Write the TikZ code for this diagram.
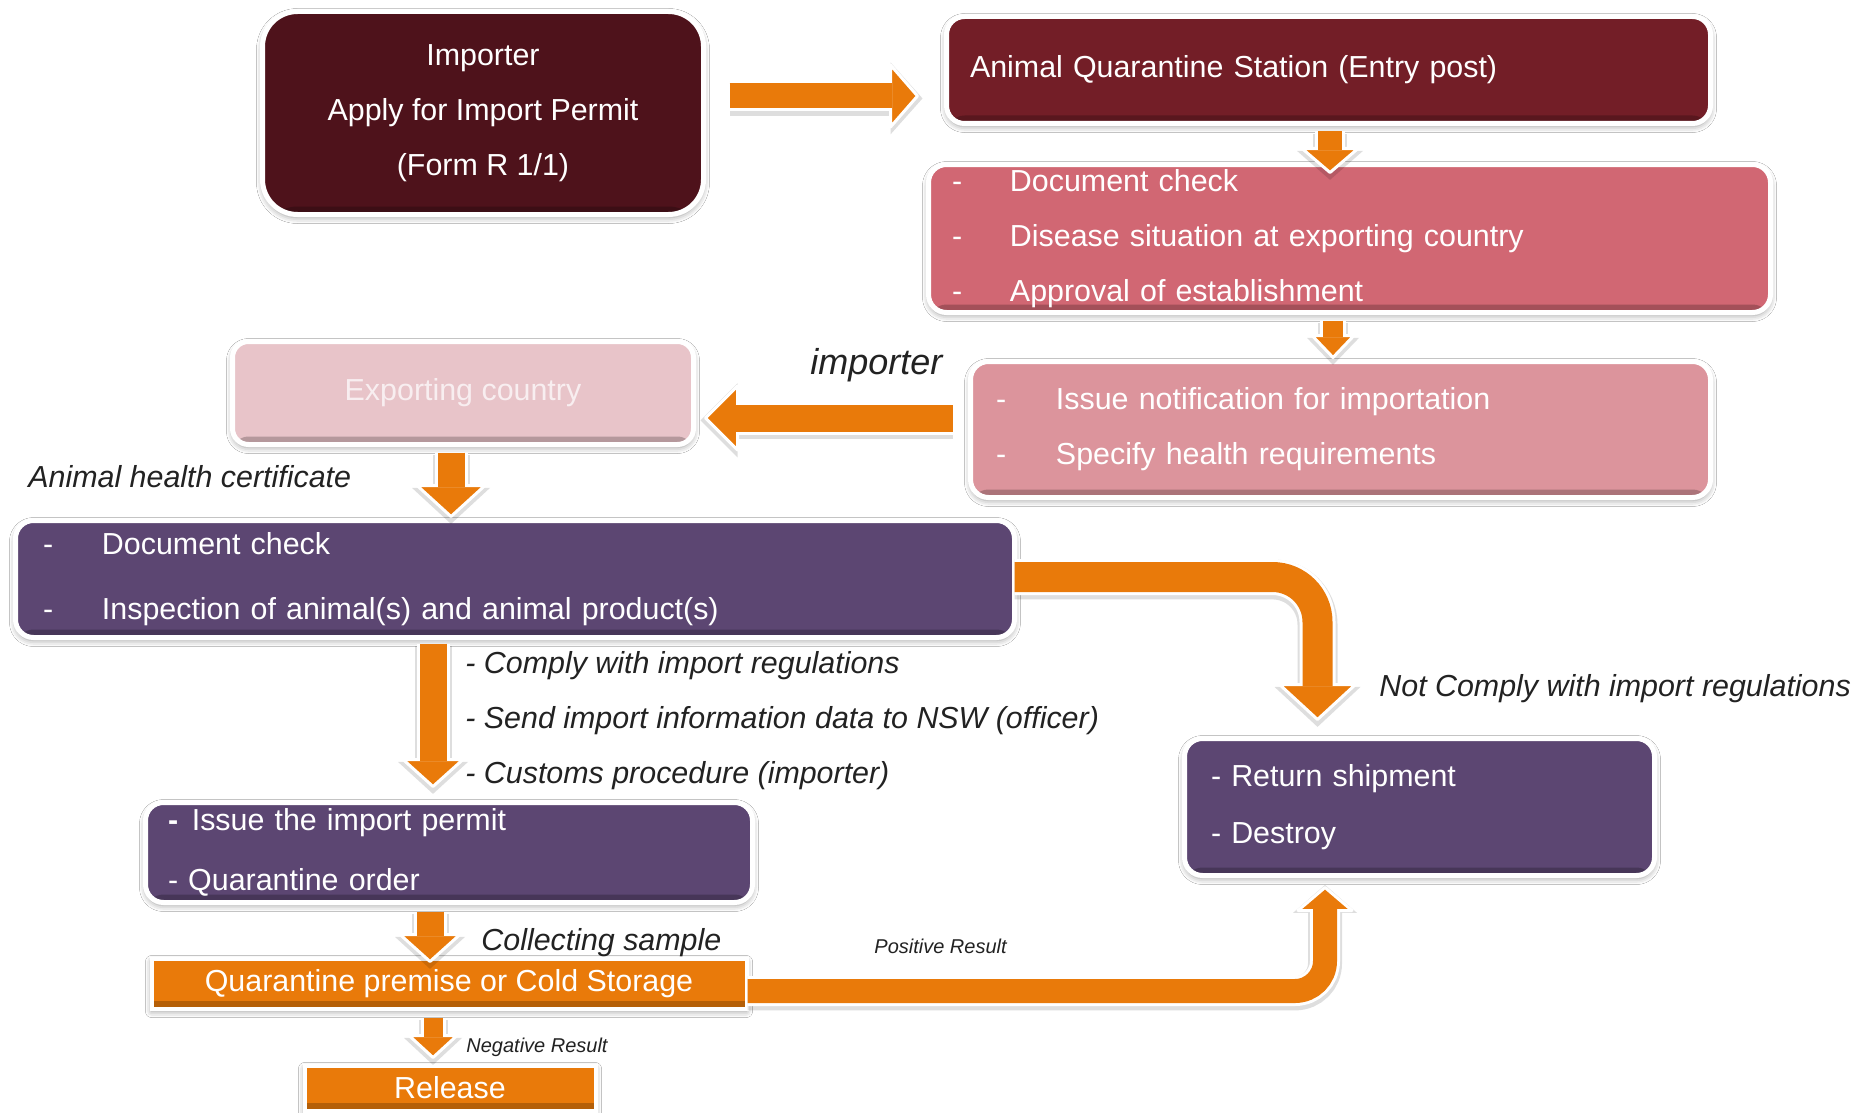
\documentclass[tikz,border=0pt]{standalone}
\usepackage{fontspec}
\setmainfont{Liberation Sans}
\usetikzlibrary{calc,shadows.blur}
\definecolor{cImp}{HTML}{4E121B}
\definecolor{cAqs}{HTML}{731E27}
\definecolor{cDoc}{HTML}{D16773}
\definecolor{cNot}{HTML}{DC949C}
\definecolor{cExp}{HTML}{E8C4C9}
\definecolor{cExpT}{HTML}{F8EEF0}
\definecolor{cPur}{HTML}{5C4672}
\definecolor{cOra}{HTML}{E97A0A}
\definecolor{cTxt}{HTML}{222222}
\newcommand\dl[2][29pt]{\makebox[#1][l]{-}#2}
\tikzset{
  box/.style={draw=white, line width=2.5pt, rounded corners=9pt, inner sep=0pt, outer sep=0pt,
    text=white, font=\fontsize{15.2pt}{27.5pt}\selectfont,
    blur shadow={shadow xshift=0pt, shadow yshift=-1.5pt, shadow blur radius=3pt, shadow opacity=40},
    path picture={\fill[black,opacity=0.22] (path picture bounding box.south west) rectangle ([yshift=4pt]path picture bounding box.south east);}},
  obox/.style={box, sharp corners, fill=cOra, line width=2pt},
  lbl/.style={inner sep=0pt, anchor=west, text=cTxt, font=\fontsize{15.2pt}{18pt}\selectfont\itshape},
  smalllbl/.style={lbl, font=\fontsize{10pt}{12pt}\selectfont\itshape},
  arrshadow/.style={draw=black, opacity=0.13},
  arrshadowfill/.style={fill=black, opacity=0.13},
  arrwhite/.style={draw=white},
  arrhead/.style={fill=cOra, draw=white, line width=1.5pt, line join=round},
  arrshaft/.style={draw=cOra}
}
% straight block arrow: #1 start, #2 tip, #3 shaft width, #4 head half width, #5 head length, #6 head base name
\newcommand\blockarrow[6]{%
  \coordinate (#6) at ($(#2)!#5pt!(#1)$);
  \begin{scope}[transform canvas={yshift=-1.2pt}]
    \draw[arrshadow, line width=#3pt+5pt] (#1) -- (#6);
    \fill[arrshadowfill] ($(#6)!#4pt+2.5pt!90:(#2)$) -- ($(#2)!-2.5pt!(#6)$) -- ($(#6)!#4pt+2.5pt!-90:(#2)$) -- cycle;
  \end{scope}
  \draw[arrwhite, line width=#3pt+3pt] (#1) -- (#6);
  \filldraw[arrhead] ($(#6)!#4pt!90:(#2)$) -- (#2) -- ($(#6)!#4pt!-90:(#2)$) -- cycle;
  \draw[arrshaft, line width=#3pt] (#1) -- ($(#6)!0.8pt!(#2)$);
}
% bent block arrow (horizontal then vertical): #7 corner radius
\newcommand\bentarrow[7]{%
  \coordinate (#6) at ($(#2)!#5pt!(#1 -| #2)$);
  \begin{scope}[transform canvas={yshift=-1.2pt}]
    \draw[arrshadow, line width=#3pt+5pt, rounded corners=#7pt] (#1) -| (#6);
    \fill[arrshadowfill] ($(#6)!#4pt+2.5pt!90:(#2)$) -- ($(#2)!-2.5pt!(#6)$) -- ($(#6)!#4pt+2.5pt!-90:(#2)$) -- cycle;
  \end{scope}
  \draw[arrwhite, line width=#3pt+3pt, rounded corners=#7pt] (#1) -| (#6);
  \filldraw[arrhead] ($(#6)!#4pt!90:(#2)$) -- (#2) -- ($(#6)!#4pt!-90:(#2)$) -- cycle;
  \draw[arrshaft, line width=#3pt, rounded corners=#7pt] (#1) -| ($(#6)!0.8pt!(#2)$);
}
\begin{document}
\begin{tikzpicture}[x=0.5pt,y=-0.5pt]
\fill[white] (0,0) rectangle (1868,1113);
\useasboundingbox (0,0) rectangle (1868,1113);

% boxes
\node[box, fill=cImp, rounded corners=17.5pt, minimum width=220.5pt, minimum height=101.5pt, align=center] (imp) at (483,113)
  {Importer\\Apply for Import Permit\\(Form R 1/1)};
\node[box, fill=cAqs, minimum width=382pt, minimum height=53.5pt, text width=358.5pt, inner xsep=11.75pt, align=left] (aqs) at (1328.5,70)
  {Animal Quarantine Station (Entry post)};
\node[box, fill=cDoc, minimum width=421pt, minimum height=74pt, text width=397.5pt, inner xsep=11.75pt, align=left] (doc) at (1349.5,238.5)
  {\dl{Document check}\\\dl{Disease situation at exporting country}\\\dl{Approval of establishment}};
\node[box, fill=cNot, minimum width=370pt, minimum height=68pt, text width=344.5pt, inner xsep=12.75pt, align=left] (notif) at (1340.5,429.5)
  {\dl[30pt]{Issue notification for importation}\\\dl[30pt]{Specify health requirements}};
\node[box, fill=cExp, rounded corners=8pt, minimum width=230.5pt, minimum height=51.5pt, text=cExpT] (exp) at (463,393)
  {Exporting country};
\node[box, fill=cPur, minimum width=499.5pt, minimum height=58.5pt, text width=472pt, inner xsep=13.75pt, align=left, font=\fontsize{15.2pt}{32.5pt}\selectfont] (insp) at (515,579)
  {\dl[29.5pt]{Document check}\\\dl[29.5pt]{Inspection of animal(s) and animal product(s)}};
\node[box, fill=cPur, minimum width=303.5pt, minimum height=50pt, text width=281pt, inner xsep=11.25pt, align=left, font=\fontsize{15.2pt}{30pt}\selectfont] (issue) at (449,852.5)
  {\textbf{-}\hspace{0.45em}Issue the import permit\\- Quarantine order};
\node[box, fill=cPur, minimum width=235pt, minimum height=68.5pt, text width=208.5pt, inner xsep=13.25pt, align=left, font=\fontsize{15.2pt}{28.5pt}\selectfont] (ret) at (1419.5,807)
  {- Return shipment\\- Destroy};
\node[obox, minimum width=297.5pt, minimum height=25pt] (qp) at (449,983.5) {Quarantine premise or Cold Storage};
\node[obox, minimum width=145.5pt, minimum height=22.5pt] (rel) at (450,1088) {Release};

% arrow end points
\coordinate (a1s) at ($(imp.east)+(26,-17)$);
\coordinate (a1t) at ($(aqs.west |- a1s)+(-29,0)$);
\coordinate (a2s) at ($(aqs.south)+(1.5,8)$);
\coordinate (a2t) at ($(a2s |- doc.north)+(0,8)$);
\coordinate (a3s) at ($(doc.south)+(-16.5,8)$);
\coordinate (a3t) at ($(a3s |- notif.north)+(0,-4)$);
\coordinate (a4s) at ($(notif.west)+(-18,-11.5)$);
\coordinate (a4t) at ($(exp.east |- a4s)+(12,0)$);
\coordinate (a5s) at ($(exp.south)+(-12,8)$);
\coordinate (a5t) at ($(a5s |- insp.north)+(0,-4)$);
\coordinate (a6s) at ($(insp.south)+(-82,6)$);
\coordinate (a6t) at ($(a6s |- issue.north)+(0,-16)$);
\coordinate (a7s) at ($(issue.south)+(-19,9)$);
\coordinate (a7t) at ($(a7s |- qp.north)+(0,3)$);
\coordinate (a8s) at ($(qp.south)+(-16,9)$);
\coordinate (a8t) at ($(a8s |- rel.north)+(0,-8)$);
\coordinate (a9s) at ($(insp.east)+(0,-2)$);
\coordinate (a9t) at ($(ret.north)+(-102,-19)$);
\coordinate (a10s) at ($(qp.east)+(1,7.5)$);
\coordinate (a10t) at ($(ret.south)+(-94.5,12)$);

% arrows
\blockarrow{a1s}{a1t}{12.5}{15.5}{13.5}{a1h}
\blockarrow{a2s}{a2t}{12}{14}{12}{a2h}
\blockarrow{a3s}{a3t}{10}{10.5}{11}{a3h}
\blockarrow{a4s}{a4t}{13.5}{16}{16}{a4h}
\blockarrow{a5s}{a5t}{13.5}{17}{15.5}{a5h}
\blockarrow{a6s}{a6t}{13.5}{15}{13.5}{a6h}
\blockarrow{a7s}{a7t}{13.5}{15}{13.5}{a7h}
\blockarrow{a8s}{a8t}{9.5}{12}{11}{a8h}
\bentarrow{a9s}{a9t}{15}{19}{17.5}{a9h}{22.5}
\bentarrow{a10s}{a10t}{12}{13.5}{11.5}{a10h}{15}

% labels
\node[lbl, font=\fontsize{18pt}{20pt}\selectfont\itshape] (limp) at (810,365) {importer};
\node[lbl] (lahc) at (28,477) {Animal health certificate};
\node[lbl] (lc1) at (465,666) {- Comply with import regulations};
\node[lbl] (lc2) at (465,721) {- Send import information data to NSW (officer)};
\node[lbl] (lc3) at (465,776) {- Customs procedure (importer)};
\node[lbl] (lnc) at (1379,689) {Not Comply with import regulations};
\node[lbl] (lcs) at (481,943) {Collecting sample};
\node[smalllbl] (lpos) at (874,946) {Positive Result};
\node[smalllbl] (lneg) at (466,1047) {Negative Result};
\end{tikzpicture}
\end{document}
